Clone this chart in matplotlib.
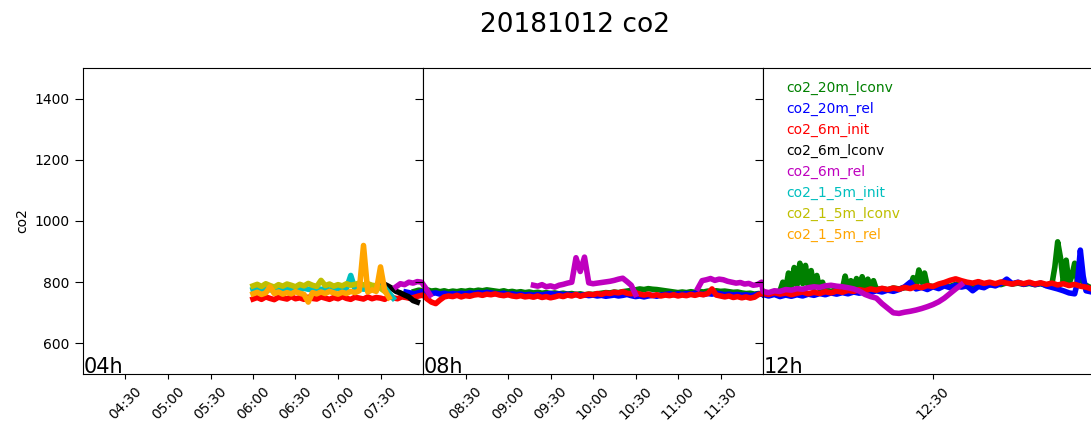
import numpy as np
import pandas as pd
import matplotlib
matplotlib.use('Agg')
import matplotlib.pyplot as plt
import matplotlib.dates as mdates

DAY = '2018-10-12 '

# each series: list of (start time, step in minutes, values)
co2_20m_lconv = [
    ('07:54', 3, [770, 774, 772, 775, 771, 773, 769, 772, 768, 771, 769, 772, 770, 773, 771, 774,
                  772, 775, 773, 771, 769, 772, 768, 770, 767, 769, 766, 768, 765, 767, 764, 766,
                  763, 765, 762, 764, 761, 763, 760, 762, 759, 761, 760, 762, 764, 766, 765, 768,
                  766, 769, 771, 773, 775, 778, 776, 779, 777, 776, 774, 772, 770, 768, 766, 768,
                  766, 769, 767, 770, 768, 771, 769, 772, 770, 771, 769, 767, 768, 765, 763, 764,
                  761, 763, 762]),
    ('12:01', 1, [760, 765]),
    ('12:03', 0.5, [772, 800, 778, 830, 785, 848, 790, 862, 795, 855, 788, 838, 782, 822, 778, 800,
                    775]),
    ('12:12', 1, [770, 776]),
    ('12:14', 0.5, [778, 820, 780, 805, 776, 812, 782, 818, 784, 810, 779, 805, 777]),
    ('12:21', 1, [779, 775, 781, 778, 782]),
    ('12:26', 0.5, [784, 815, 790, 840, 800, 830, 788]),
    ('12:30', 1, [786, 783, 790, 786, 793, 789, 786, 790, 787, 793, 791, 795, 792, 798, 794, 797,
                  793, 796, 792, 795, 790]),
    ('12:51', 0.5, [795, 850, 932, 880, 800, 872, 795, 820, 862, 800, 878, 795, 790]),
    ('12:58', 1, [780, 776, 772]),
]
co2_20m_rel = [
    ('07:48', 3, [768, 765, 762, 766, 770, 766, 763, 765, 761, 764, 760, 763, 761, 764, 762, 765,
                  763, 766, 764, 767, 765, 763, 761, 764, 760, 762, 759, 761, 758, 760, 757, 760,
                  758, 761, 763, 760, 762, 759, 761, 758, 760, 757, 759, 756, 758, 755, 757, 754,
                  756, 758, 755, 757, 760, 756, 753, 755, 752, 755, 757, 754, 758, 760, 762, 759,
                  762, 760, 763, 761, 764, 762, 760, 763, 761, 764, 762, 759, 761, 758, 760, 757,
                  759, 756, 758, 762, 760]),
    ('12:01', 1, [755, 760, 753, 758, 754, 759, 755, 761, 757, 763, 759, 765, 761, 766, 762, 768,
                  764, 770, 766, 772, 768, 774, 770, 776, 785, 800, 778, 783, 776, 785, 779, 788,
                  782, 790, 784, 788, 772, 786, 782, 792, 788, 796, 810, 795, 800, 793, 798, 792,
                  797, 788, 783, 778, 772, 765, 762]),
    ('12:55:30', 0.5, [800, 905, 820, 772]),
    ('12:58', 1, [768, 775, 770]),
]
co2_6m_init = [
    ('06:00', 3, [745, 750, 744, 752, 747, 743, 751, 748, 745, 753, 746, 749, 744, 751, 747, 745,
                  752, 748, 744, 750, 746, 753, 747, 744, 751, 748, 745, 752, 746, 750, 748, 744,
                  753, 749, 746, 752, 750, 747, 751, 755, 758, 745, 735, 730, 742, 752, 755, 753,
                  757, 752, 756, 754, 758, 760, 757, 761, 759, 762, 758, 756, 759, 755, 753, 756,
                  752, 754, 751, 755, 750, 753, 749, 752, 756, 753, 758, 755, 760, 754, 758, 761,
                  759, 763, 760, 765, 763, 767, 765, 769, 764, 762, 766, 761, 758, 761, 756, 759,
                  755, 758, 756, 759, 755, 758, 756, 760, 757, 761, 759, 763, 778, 758, 755, 752,
                  755, 750, 753, 749, 752, 748, 751, 760, 764]),
    ('12:01', 1, [760, 766, 761, 765, 759, 764, 768, 762, 767, 763, 769, 765, 771, 767, 773, 770,
                  776, 772, 778, 774, 780, 776, 781, 777, 783, 779, 786, 782, 789, 786, 794, 799,
                  806, 811, 805, 800, 797, 802, 796, 800, 795, 801, 797, 794, 799, 795, 800, 794,
                  798, 793, 797, 791, 795, 789, 793, 787, 784, 778, 781, 775]),
]
co2_6m_lconv = [
    ('07:32', 3, [795, 788, 780, 770, 765, 758, 752, 740, 735]),
]
co2_6m_rel = [
    ('07:41', 3, [785, 795, 792, 800, 797, 802, 800, 780, 758]),
    ('09:18', 3, [790, 787, 792, 785, 788, 784, 790, 793, 797, 800, 880, 835, 882, 798, 795, 797,
                  799, 801, 803, 806, 810, 813, 802, 790, 760]),
    ('11:14', 3, [780, 805, 808, 812, 806, 810, 808, 803, 800, 797, 799, 794, 796, 790, 792, 800]),
    ('12:00', 1, [770, 766, 772, 770, 776, 774, 779, 777, 782, 785, 783, 788, 790, 787, 785, 782,
                  778, 771, 760, 753, 748, 730, 715, 700, 698, 702, 705, 709, 714, 720, 727, 736,
                  748, 763, 778, 792]),
]
co2_1_5m_init = [
    ('06:00', 3, [776, 780, 774, 779, 775, 781, 777, 773, 782, 776, 779, 774, 780, 777, 775, 781,
                  776, 779, 774, 778, 781, 776, 780, 822, 778, 782, 777, 780, 784, 781, 785, 782,
                  765, 748]),
]
co2_1_5m_lconv = [
    ('06:00', 3, [788, 793, 786, 795, 789, 784, 792, 787, 794, 790, 785, 793, 788, 796, 790, 786,
                  806, 789, 794, 787, 792, 788, 795, 790, 793, 797, 791, 795, 790, 788, 780, 770]),
]
co2_1_5m_rel = [
    ('06:00', 3, [762, 767, 760, 765, 785, 763, 768, 761, 766, 762, 769, 764, 760, 735, 766, 762,
                  768, 763, 770, 765, 761, 767, 763, 770, 766, 772, 920, 768, 775, 770, 850, 772,
                  750]),
]

names = ['co2_20m_lconv', 'co2_20m_rel', 'co2_6m_init', 'co2_6m_lconv',
         'co2_6m_rel', 'co2_1_5m_init', 'co2_1_5m_lconv', 'co2_1_5m_rel']
data = [co2_20m_lconv, co2_20m_rel, co2_6m_init, co2_6m_lconv,
        co2_6m_rel, co2_1_5m_init, co2_1_5m_lconv, co2_1_5m_rel]
colors = ['g', 'b', 'r', 'k', 'm', 'c', 'y', 'orange']

windows = [('04:00', '08:00', '04h'), ('08:00', '12:00', '08h'), ('12:00', '13:00', '12h')]


def build(segments):
    t_all, v_all = [], []
    last = None
    for start, step, vals in segments:
        t0 = pd.Timestamp(DAY + start)
        t = t0 + pd.to_timedelta(np.arange(len(vals)) * step, unit='min')
        if last is not None and (t0 - last) > pd.Timedelta(minutes=3):
            t_all.append(last + pd.Timedelta(minutes=1))
            v_all.append(np.nan)
        t_all.extend(list(t))
        v_all.extend(vals)
        last = t[-1]
    return pd.DatetimeIndex(t_all), np.array(v_all, dtype=float)


series = [build(d) for d in data]

W, H = 1091, 425
fig = plt.figure(figsize=(W / 100, H / 100), dpi=100)
fig.suptitle('20181012 co2', x=575 / W, y=1 - 12 / H, fontsize=19, va='top')

for i, (a, b, lab) in enumerate(windows):
    ax = fig.add_axes([(83 + 340 * i) / W, 1 - 374 / H, 340 / W, 306 / H])
    for name, col, (t, v) in zip(names, colors, series):
        ax.plot(t, v, color=col, lw=4, label=name)
    t_a = pd.Timestamp(DAY + a)
    t_b = pd.Timestamp(DAY + b)
    ax.set_xlim(t_a, t_b)
    ax.set_ylim(500, 1500)
    ax.set_yticks([600, 800, 1000, 1200, 1400])
    ticks = pd.date_range(t_a + pd.Timedelta(minutes=30), t_b - pd.Timedelta(minutes=30), freq='30min')
    ax.set_xticks(ticks)
    ax.xaxis.set_major_formatter(mdates.DateFormatter('%H:%M'))
    ax.tick_params(axis='x', labelrotation=45, labelsize=10)
    ax.tick_params(axis='y', labelsize=10, length=6)
    if i == 0:
        ax.set_ylabel('co2', fontsize=10)
    else:
        ax.tick_params(axis='y', labelleft=False)
    ax.text(0.003, 0.004, lab, transform=ax.transAxes, fontsize=15, va='baseline', ha='left')
    if i == 2:
        leg = ax.legend(loc='upper left', handlelength=0, frameon=False, fontsize=10)
        for txt, line in zip(leg.get_texts(), leg.get_lines()):
            txt.set_color(line.get_color())
            line.set_visible(False)

fig.savefig('out.png', dpi=100)
